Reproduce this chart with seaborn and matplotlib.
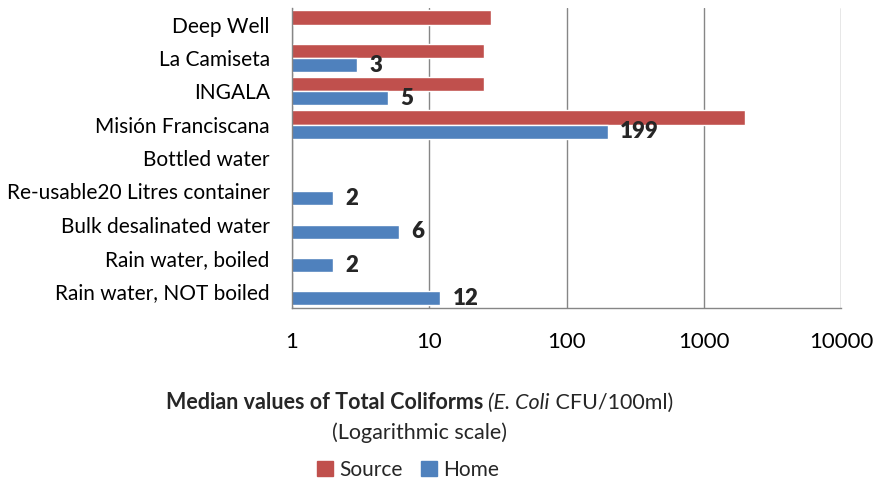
import pandas as pd
import seaborn as sns
import matplotlib.pyplot as plt
import numpy as np
from matplotlib.patches import Patch
from matplotlib.ticker import FixedLocator, NullLocator

# data
categories = ["Deep Well", "La Camiseta", "INGALA", "Misión Franciscana",
              "Bottled water", "Re-usable20 Litres container",
              "Bulk desalinated water", "Rain water, boiled",
              "Rain water, NOT boiled"]
source = [28, 25, 25, 2000, np.nan, np.nan, np.nan, np.nan, np.nan]
home = [np.nan, 3, 5, 199, np.nan, 2, 6, 2, 12]
series = ["Source", "Home"]
colors = ["#C0504D", "#4F81BD"]
xticks = [1, 10, 100, 1000, 10000]

df = pd.DataFrame({"category": categories * 2,
                   "value": source + home,
                   "series": ["Source"] * len(categories) + ["Home"] * len(categories)})

sns.set_style("white")
plt.rcParams["font.family"] = ["Lato", "DejaVu Sans"]

fig = plt.figure(figsize=(8.77, 4.83), dpi=100)
ax = fig.add_axes([292 / 877, 1 - 308 / 483, (841 - 292) / 877, 300 / 483])

sns.barplot(data=df, y="category", x="value", hue="series", hue_order=series,
            order=categories, palette=colors, orient="h", width=0.85,
            errorbar=None, saturation=1, legend=False, ax=ax)

ax.set_xscale("log")
ax.set_xlim(1, 10000)
ax.set_ylim(len(categories) - 0.5, -0.5)
ax.xaxis.set_major_locator(FixedLocator(xticks))
ax.xaxis.set_minor_locator(NullLocator())
ax.set_xticklabels([str(t) for t in xticks])
ax.xaxis.grid(True, color="#868686", lw=1)
ax.yaxis.grid(False)
ax.set_axisbelow(True)
for s in ["top", "right"]:
    ax.spines[s].set_visible(False)
for s in ["left", "bottom"]:
    ax.spines[s].set_color("#868686")
    ax.spines[s].set_linewidth(1)
ax.tick_params(axis="x", direction="out", length=6, color="#868686",
               labelsize=16, pad=11, labelcolor="black")
ax.tick_params(axis="y", length=0, labelsize=15, pad=16, labelcolor="black")
ax.set_xlabel("")
ax.set_ylabel("")

# value labels on the Home bars
home_bars = ax.containers[1]
labels = ["" if np.isnan(p.get_width()) else f"{p.get_width():g}" for p in home_bars]
ax.bar_label(home_bars, labels=labels, padding=9, fontsize=16, fontweight="heavy")

# axis title with mixed styles
fig.canvas.draw()
renderer = fig.canvas.get_renderer()
runs = [("Median values of Total Coliforms ", "normal", "bold"),
        ("(E. Coli", "italic", "normal"),
        (" CFU/100ml)", "normal", "normal")]
texts = []
for txt, style, weight in runs:
    t = fig.text(0, 0.166, txt, fontsize=15.5, style=style, fontweight=weight,
                 ha="left", va="center")
    texts.append(t)
widths = [t.get_window_extent(renderer).width / fig.bbox.width for t in texts]
x = 0.478 - sum(widths) / 2
for t, w in zip(texts, widths):
    t.set_x(x)
    x += w
fig.text(0.478, 0.104, "(Logarithmic scale)", fontsize=15.5, ha="center", va="center")

handles = [Patch(color=c, label=s) for c, s in zip(colors, series)]
fig.legend(handles=handles, loc="center", bbox_to_anchor=(0.465, 0.027), ncol=2,
           frameon=False, fontsize=15, handlelength=0.75, handleheight=0.75,
           handletextpad=0.3, columnspacing=0.9)

fig.savefig("out.png", dpi=100)
